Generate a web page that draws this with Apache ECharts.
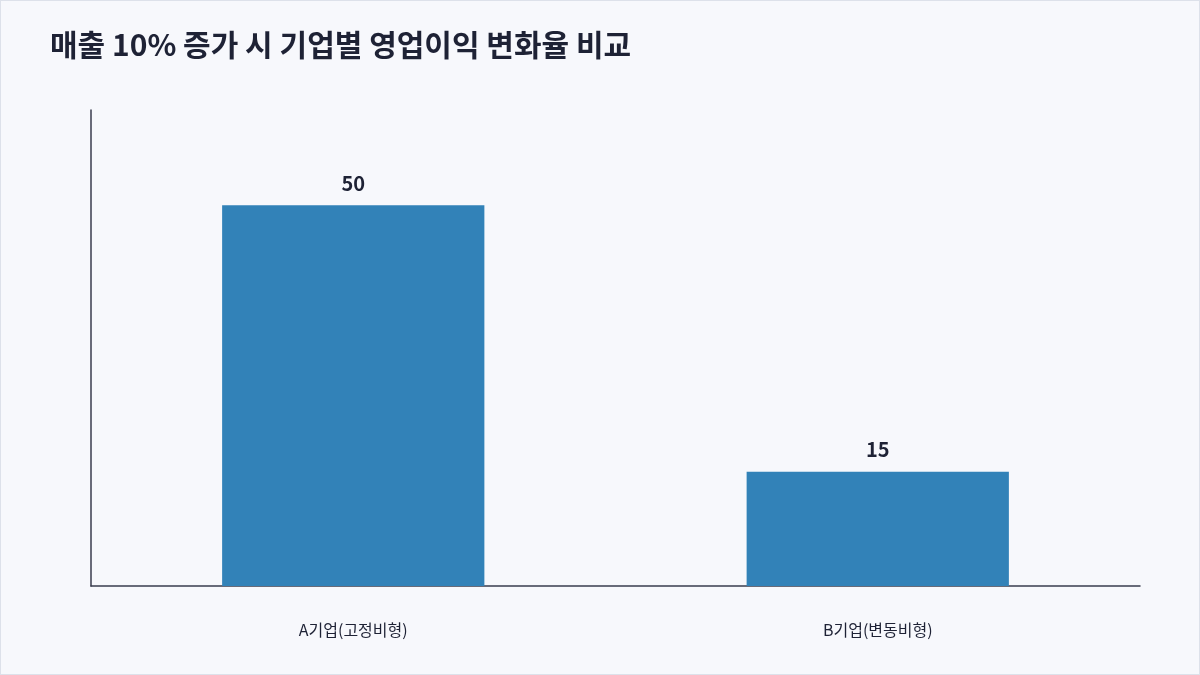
<!DOCTYPE html>
<html><head><meta charset="utf-8">
<script src="https://cdn.jsdelivr.net/npm/echarts@6/dist/echarts.min.js"></script>
<style>html,body{margin:0;padding:0;background:#f7f8fc}
#c{width:1198px;height:673px;border:1px solid #dde1ea}</style></head>
<body><div id="c"></div>
<script>
const title = '매출 10% 증가 시 기업별 영업이익 변화율 비교';
const categories = ['A기업(고정비형)', 'B기업(변동비형)'];
const values = [50, 15];
const chart = echarts.init(document.getElementById('c'));
chart.setOption({
  backgroundColor: '#f7f8fc',
  textStyle: {fontFamily: 'Noto Sans CJK KR'},
  title: {text: title, left: 44, top: 24, textStyle: {fontSize: 30, fontWeight: 'bold', color: '#1e2235', fontFamily: 'Noto Sans CJK KR'}},
  grid: {left: 90, right: 59, top: 109, bottom: 88},
  xAxis: {type: 'category', data: categories,
    axisLine: {lineStyle: {color: '#3a3c4e', width: 1.5}}, axisTick: {show: false},
    axisLabel: {margin: 36, fontSize: 16, color: '#1e2235'}},
  yAxis: {type: 'value', min: 0, max: 62.5, splitLine: {show: false}, axisLabel: {show: false},
    axisTick: {show: false}, axisLine: {show: true, lineStyle: {color: '#3a3c4e', width: 1.5}}},
  series: [{type: 'bar', data: values, barWidth: '50%', itemStyle: {color: '#3282b8'},
    label: {show: true, position: 'top', distance: 12, fontSize: 20, fontWeight: 'bold', color: '#1e2235'}}]
});
</script></body></html>
